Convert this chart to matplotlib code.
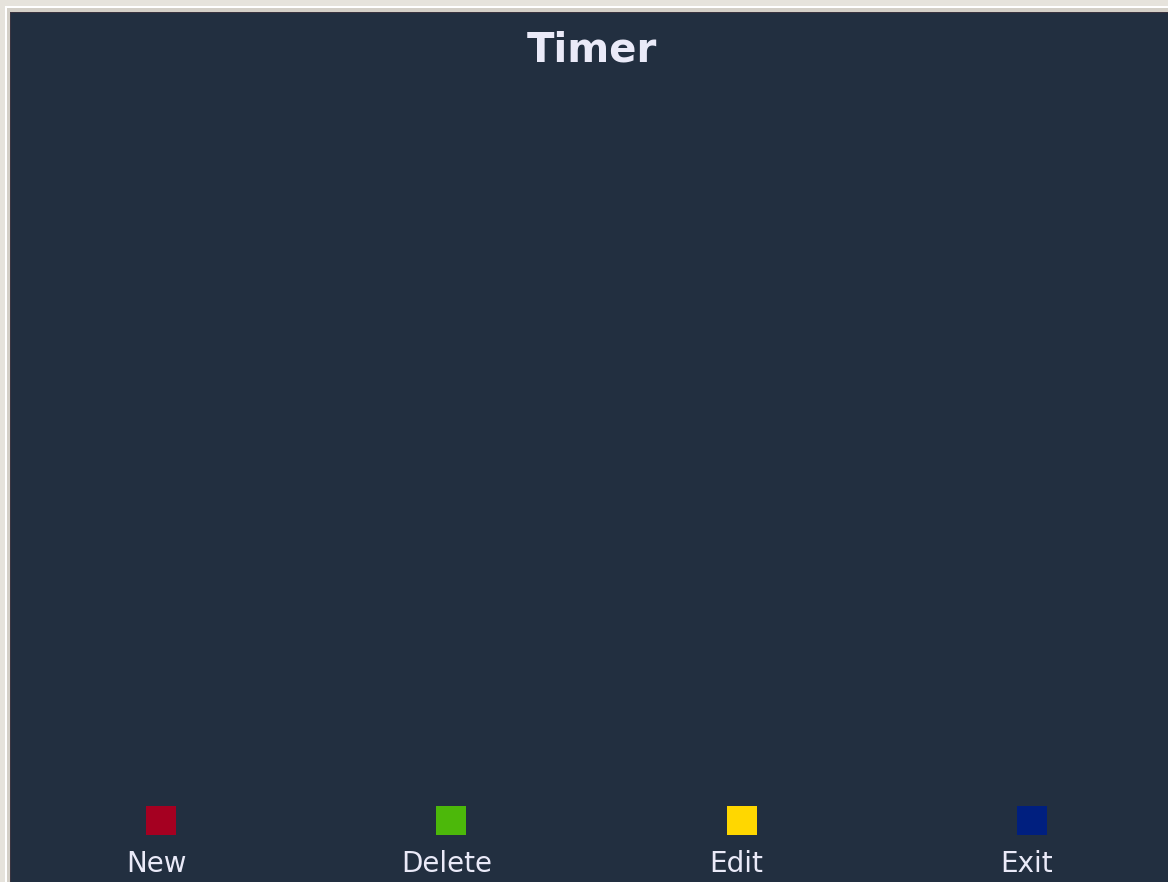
import matplotlib
matplotlib.use("Agg")
import matplotlib.pyplot as plt
from matplotlib.patches import Rectangle

title = "Timer"
labels = ["New", "Delete", "Edit", "Exit"]
colors = ["#A50021", "#4CB80A", "#FFD700", "#001F7F"]

W, H = 1168, 882
fig = plt.figure(figsize=(W / 100, H / 100), dpi=100, facecolor="#D4D0C8")
ax = fig.add_axes([0, 0, 1, 1])
ax.set_xlim(0, W)
ax.set_ylim(H, 0)
ax.axis("off")

# window frame
ax.add_patch(Rectangle((0, 0), W, H, facecolor="#E6E3DC", edgecolor="none"))
ax.add_patch(Rectangle((5, 6), W, H, facecolor="#FFFFFF", edgecolor="none"))
ax.add_patch(Rectangle((7, 8), W, H, facecolor="#D4D0C8", edgecolor="none"))
ax.add_patch(Rectangle((10, 12), W, H, facecolor="#3A3440", edgecolor="none"))
px0, py0 = 11, 13
ax.add_patch(Rectangle((px0, py0), W - px0, H - py0, facecolor="#222F40", edgecolor="none"))

ax.text((px0 + W) / 2 + 2, 50, title, ha="center", va="center", fontsize=29,
        fontweight="bold", color="#EAEAF8", family="DejaVu Sans")

n = len(labels)
slot = (W - px0 + 4) / n
for i, (lab, col) in enumerate(zip(labels, colors)):
    cx = px0 + slot * (i + 0.5)
    ax.add_patch(Rectangle((cx - 10, 806), 30, 29, facecolor=col, edgecolor="none"))
    ax.text(cx, 864, lab, ha="center", va="center", fontsize=20,
            color="#EAEAF8", family="DejaVu Sans")

fig.savefig("out.png", dpi=100, facecolor=fig.get_facecolor())
